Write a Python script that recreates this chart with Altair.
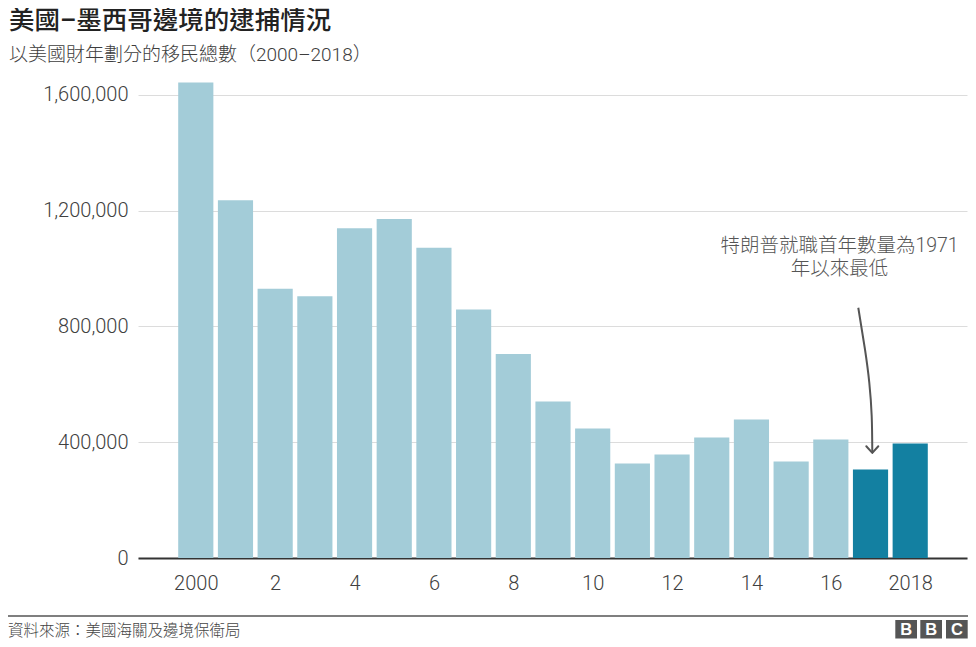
import altair as alt
import pandas as pd

# ---- data ----
years = list(range(2000, 2019))
arrests = [1643000, 1235800, 930400, 904800, 1139000, 1171100, 1072200,
           858800, 705200, 540600, 447200, 326100, 357300, 416100,
           478400, 333100, 409200, 305400, 395300]
trump_years = [2017, 2018]
tick_years = [2000, 2002, 2004, 2006, 2008, 2010, 2012, 2014, 2016, 2018]
y_ticks = [0, 400000, 800000, 1200000, 1600000]

title_text = "美國–墨西哥邊境的逮捕情況"
subtitle_text = "以美國財年劃分的移民總數（2000–2018）"
note_text = "特朗普就職首年數量為1971\n年以來最低"
note_year = 2016.22
note_value = 1059000
arrow_years = [2016.692, 2016.861, 2016.969, 2017.030, 2017.045]
arrow_values = [864700, 720450, 606300, 489800, 363200]
source_text = "資料來源：美國海關及邊境保衛局"
logo_letters = ["B", "B", "C"]

LIGHT = "#a3ccd8"
DARK = "#1380a1"
FONT = "Roboto, 'Noto Sans CJK TC', sans-serif"

bars_df = pd.DataFrame({"year": years, "value": arrests})
bars_df["period"] = ["trump" if y in trump_years else "before" for y in years]

xscale = alt.Scale(domain=[1998.544, 2019.431], nice=False, zero=False)
yscale = alt.Scale(domain=[0, 1700000], nice=False)

xaxis = alt.Axis(
    values=tick_years, format="d",
    labelExpr="(datum.value == 2000 || datum.value == 2018) ? datum.label : format(datum.value - 2000, 'd')",
    title=None, grid=False, ticks=False, tickSize=0,
    domainColor="#333333", domainWidth=1.8,
    labelFont=FONT, labelFontSize=20, labelFontWeight=300, labelColor="#404040",
    labelPadding=15,
)
yaxis = alt.Axis(
    values=y_ticks, format=",", labelExpr="format(datum.value, ',')", title=None, grid=True,
    gridColor="#dcdcdc", gridWidth=1, domain=False, ticks=False, tickSize=0,
    labelFont=FONT, labelFontSize=20, labelFontWeight=300, labelColor="#404040",
    labelPadding=10,
)


def X(field):
    return alt.X(field, scale=xscale, axis=xaxis)


def Y(field):
    return alt.Y(field, scale=yscale, axis=yaxis)


bars = alt.Chart(bars_df).transform_calculate(
    x0="datum.year - 0.443", x1="datum.year + 0.443"
).mark_bar().encode(
    x=X("x0:Q"),
    x2="x1:Q",
    y=Y("value:Q"),
    y2=alt.datum(0),
    color=alt.Color("period:N", scale=alt.Scale(domain=["before", "trump"], range=[LIGHT, DARK]), legend=None),
)

note = alt.Chart(pd.DataFrame({"x0": [note_year], "value": [note_value], "t": [note_text]})).mark_text(
    font=FONT, fontSize=19.5, fontWeight=300, color="#555555", align="center",
    baseline="alphabetic", lineBreak="\n", lineHeight=23.5,
).encode(x=X("x0:Q"), y=Y("value:Q"), text="t:N")

arrow_df = pd.DataFrame({"x0": arrow_years, "value": arrow_values, "i": list(range(len(arrow_years)))})
arrow = alt.Chart(arrow_df).mark_line(
    color="#555555", strokeWidth=2, interpolate="natural"
).encode(x=X("x0:Q"), y=Y("value:Q"), order="i:Q")

head = alt.Chart(arrow_df.tail(1)).mark_point(
    shape="M-1,-1.1L0,0L1,-1.1", size=144, filled=False, color="#555555",
    strokeWidth=2, opacity=1, strokeCap="round", strokeJoin="round",
).encode(x=X("x0:Q"), y=Y("value:Q"))

footer_rule = alt.Chart(pd.DataFrame({"k": [0]})).mark_rule(
    color="#555555", strokeWidth=1.5
).encode(x=alt.value(-130), x2=alt.value(830), y=alt.value(550))

source = alt.Chart(pd.DataFrame({"t": [source_text]})).mark_text(
    font=FONT, fontSize=15.5, fontWeight=300, color="#444444", align="left", baseline="alphabetic"
).encode(x=alt.value(-130), y=alt.value(569.5), text="t:N")

logo_layers = []
box_left = [757.3, 782.3, 808.0]
for letter, left in zip(logo_letters, box_left):
    d = pd.DataFrame({"t": [letter]})
    logo_layers.append(
        alt.Chart(d).mark_rect(color="#555555").encode(
            x=alt.value(left), x2=alt.value(left + 21.7), y=alt.value(554), y2=alt.value(572.5)
        )
    )
    logo_layers.append(
        alt.Chart(d).mark_text(
            font="Liberation Sans", fontSize=16.5, fontWeight="bold", color="white",
            align="center", baseline="middle",
        ).encode(x=alt.value(left + 10.9), y=alt.value(563.8), text="t:N")
    )

chart = alt.layer(bars, note, arrow, head, footer_rule, source, *logo_layers).properties(
    width=829, height=492,
    autosize=alt.AutoSizeParams(type="none"),
    padding={"left": 130, "top": 58, "right": 1, "bottom": 81},
    background="white",
    title=alt.TitleParams(
        text=title_text, subtitle=subtitle_text, anchor="start", frame="group",
        dx=-129, offset=1, font=FONT, fontSize=25.5, fontWeight=500, color="#222222",
        subtitleFont=FONT, subtitleFontSize=19, subtitleFontWeight=300,
        subtitleColor="#3d3d3d", subtitlePadding=11.5,
    ),
).configure_view(stroke=None)

chart.save("out.html", embed_options={"renderer": "svg", "actions": False})
